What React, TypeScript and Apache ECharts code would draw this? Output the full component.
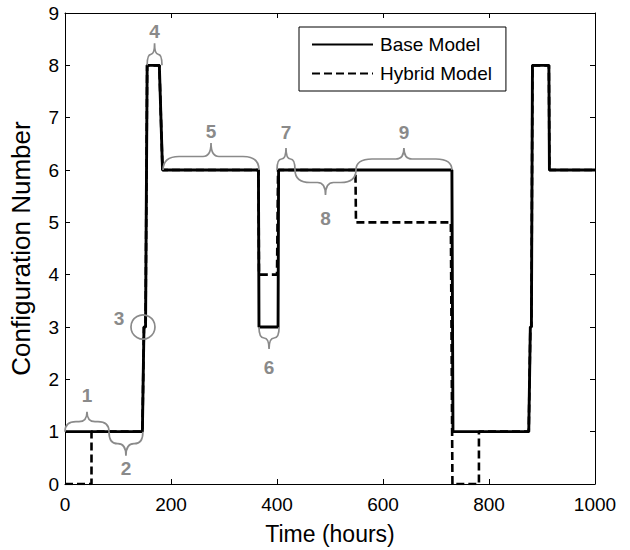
import React, { useEffect, useRef } from 'react';
import * as echarts from 'echarts';

// ---- data ----
const xTickValues = [0, 200, 400, 600, 800, 1000];
const yTickValues = [0, 1, 2, 3, 4, 5, 6, 7, 8, 9];

const baseHours = [0, 146, 149, 152, 155, 178, 184, 365, 366, 402, 403, 730, 732, 875, 878, 880, 882, 913, 914, 1000];
const baseConfig = [1, 1, 3, 3, 8, 8, 6, 6, 3, 3, 6, 6, 1, 1, 3, 3, 8, 8, 6, 6];

const hybridHours = [0, 50, 50, 146, 149, 152, 155, 178, 184, 365, 366, 400, 402, 548, 549, 728, 731, 781, 781, 875, 878, 880, 882, 913, 914, 1000];
const hybridConfig = [0, 0, 1, 1, 3, 3, 8, 8, 6, 6, 4, 4, 6, 6, 5, 5, 0, 0, 1, 1, 3, 3, 8, 8, 6, 6];

const braceLabels = ['1', '2', '4', '5', '6', '7', '8', '9'];
const braceStart = [0, 83, 155, 185, 366, 400, 434, 549];
const braceEnd = [83, 147, 183, 366, 404, 434, 549, 730];
const braceLevel = [1, 1, 8, 6, 3, 6, 6, 6];
const braceSide = ['up', 'down', 'up', 'up', 'down', 'up', 'down', 'up'];

const circleLabel = '3';
const circleHour = 149;
const circleConfig = 3;

// ---- layout / style (pixels) ----
const braceHeightPx = [20, 24, 22, 27, 22, 22, 25, 22];
const braceLabelGapPx = [36, 37, 34, 39, 40, 38, 48, 38];

const GRAY = '#8a8a8a';
const FONT = '"Liberation Sans", Arial, sans-serif';

function bracePath(x0: number, x1: number, y: number, H: number, s: number): string {
  const W = x1 - x0;
  const xm = (x0 + x1) / 2;
  const h1 = H * 0.5;
  const rx = Math.min(16, W / 4);
  const rm = Math.min(8, W / 4);
  const yh = y + s * h1;
  const yt = y + s * H;
  return [
    `M ${x0} ${y}`,
    `Q ${x0} ${yh} ${x0 + rx} ${yh}`,
    `L ${xm - rm} ${yh}`,
    `Q ${xm} ${yh} ${xm} ${yt}`,
    `Q ${xm} ${yh} ${xm + rm} ${yh}`,
    `L ${x1 - rx} ${yh}`,
    `Q ${x1} ${yh} ${x1} ${y}`,
  ].join(' ');
}

export default function App() {
  const ref = useRef<HTMLDivElement>(null);

  useEffect(() => {
    if (!ref.current) return;
    const chart = echarts.init(ref.current, undefined, { renderer: 'svg' });

    const baseData = baseHours.map((h, i) => [h, baseConfig[i]]);
    const hybridData = hybridHours.map((h, i) => [h, hybridConfig[i]]);
    const braceData = braceLabels.map((_, i) => [braceStart[i], braceEnd[i], braceLevel[i]]);

    const axisCommon = {
      axisLine: { show: true, onZero: false, lineStyle: { color: '#000', width: 1 } },
      axisTick: { show: true, inside: true, length: 5, lineStyle: { color: '#000', width: 1 } },
      splitLine: { show: false },
    };

    const option: any = {
      animation: false,
      backgroundColor: '#fff',
      grid: { left: 65, right: 35, top: 13, bottom: 62, containLabel: false },
      legend: {
        data: ['Base Model', 'Hybrid Model'],
        orient: 'vertical',
        left: 299,
        top: 27,
        padding: [8, 14, 8, 12],
        itemWidth: 61,
        itemHeight: 14,
        itemGap: 10,
        borderColor: '#000',
        borderWidth: 1,
        borderRadius: 0,
        backgroundColor: '#fff',
        itemStyle: { opacity: 0 },
        textStyle: { color: '#000', fontSize: 19, fontFamily: FONT, padding: [0, 0, 0, 2] },
      },
      xAxis: [
        {
          type: 'value',
          min: 0,
          max: 1000,
          interval: 200,
          position: 'bottom',
          name: 'Time (hours)',
          nameLocation: 'middle',
          nameGap: 38,
          nameTextStyle: { color: '#000', fontSize: 23, fontFamily: FONT },
          axisLabel: {
            color: '#000', fontSize: 19, fontFamily: FONT, margin: 11,
            formatter: (v: number) => (xTickValues.includes(v) ? String(v) : ''),
          },
          ...axisCommon,
        },
        {
          type: 'value',
          min: 0,
          max: 1000,
          interval: 200,
          position: 'top',
          axisLabel: { show: false },
          ...axisCommon,
        },
      ],
      yAxis: [
        {
          type: 'value',
          min: 0,
          max: 9,
          interval: 1,
          position: 'left',
          name: 'Configuration Number',
          nameLocation: 'middle',
          nameGap: 31,
          nameRotate: 90,
          nameTextStyle: { color: '#000', fontSize: 26, fontFamily: FONT },
          axisLabel: {
            color: '#000', fontSize: 19, fontFamily: FONT, margin: 6,
            formatter: (v: number) => (yTickValues.includes(v) ? String(v) : ''),
          },
          ...axisCommon,
        },
        {
          type: 'value',
          min: 0,
          max: 9,
          interval: 1,
          position: 'right',
          axisLabel: { show: false },
          ...axisCommon,
        },
      ],
      series: [
        {
          name: 'Hybrid Model',
          type: 'line',
          data: hybridData,
          symbol: 'none',
          z: 2,
          lineStyle: { color: '#000', width: 2.6, type: [8, 4] },
          itemStyle: { color: '#000' },
        },
        {
          name: 'Base Model',
          type: 'line',
          data: baseData,
          symbol: 'none',
          z: 3,
          lineStyle: { color: '#000', width: 2.9, type: 'solid' },
          itemStyle: { color: '#000' },
        },
        {
          name: 'braces',
          type: 'custom',
          coordinateSystem: 'cartesian2d',
          data: braceData,
          z: 4,
          silent: true,
          clip: false,
          renderItem: (params: any, api: any) => {
            const i = params.dataIndex;
            const p0 = api.coord([api.value(0), api.value(2)]);
            const p1 = api.coord([api.value(1), api.value(2)]);
            const s = braceSide[i] === 'up' ? -1 : 1;
            const y = p0[1];
            const xm = (p0[0] + p1[0]) / 2;
            const d = bracePath(p0[0], p1[0], y, braceHeightPx[i], s);
            return {
              type: 'group',
              children: [
                {
                  type: 'path',
                  shape: { pathData: d },
                  style: { stroke: GRAY, fill: 'none', lineWidth: 1.7 },
                },
                {
                  type: 'text',
                  x: xm,
                  y: y + s * braceLabelGapPx[i],
                  style: {
                    text: braceLabels[i],
                    fill: GRAY,
                    fontSize: 19,
                    fontWeight: 'bold',
                    fontFamily: FONT,
                    align: 'center',
                    verticalAlign: 'middle',
                    textAlign: 'center',
                    textVerticalAlign: 'middle',
                  },
                },
              ],
            };
          },
        },
        {
          name: 'circle',
          type: 'custom',
          coordinateSystem: 'cartesian2d',
          data: [[circleHour, circleConfig]],
          z: 4,
          silent: true,
          clip: false,
          renderItem: (params: any, api: any) => {
            const p = api.coord([api.value(0), api.value(1)]);
            return {
              type: 'group',
              children: [
                {
                  type: 'circle',
                  shape: { cx: p[0] - 1, cy: p[1], r: 12 },
                  style: { stroke: GRAY, fill: 'none', lineWidth: 1.7 },
                },
                {
                  type: 'text',
                  x: p[0] - 25,
                  y: p[1] - 9,
                  style: {
                    text: circleLabel,
                    fill: GRAY,
                    fontSize: 19,
                    fontWeight: 'bold',
                    fontFamily: FONT,
                    align: 'center',
                    verticalAlign: 'middle',
                    textAlign: 'center',
                    textVerticalAlign: 'middle',
                  },
                },
              ],
            };
          },
        },
      ],
    };

    chart.setOption(option);
    return () => chart.dispose();
  }, []);

  return (
    <div
      ref={ref}
      style={{ position: 'fixed', left: 0, top: 0, width: 630, height: 550, background: '#fff' }}
    />
  );
}
